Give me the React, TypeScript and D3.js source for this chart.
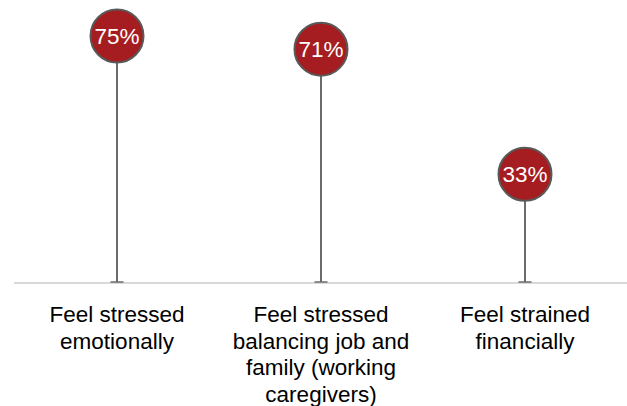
import React from "react";
import * as d3 from "d3";

const categories: string[][] = [
  ["Feel stressed", "emotionally"],
  ["Feel stressed", "balancing job and", "family (working", "caregivers)"],
  ["Feel strained", "financially"],
];
const values: number[] = [75, 71, 33];
const valueLabels: string[] = ["75%", "71%", "33%"];

export default function App() {
  const width = 627;
  const height = 406;
  const axisY = 283;
  const x = d3
    .scalePoint<number>()
    .domain(values.map((_, i) => i))
    .range([117, 525]);
  const y = d3.scaleLinear().domain([0, 75]).range([axisY, 36]);
  const r = 26.5;

  return (
    <svg
      width={width}
      height={height}
      style={{ position: "absolute", left: 0, top: 0 }}
      fontFamily="'Liberation Sans', Arial, sans-serif"
    >
      <line x1={14} x2={627} y1={axisY} y2={axisY} stroke="#d9d9d9" strokeWidth={2} />
      {values.map((v, i) => {
        const cx = x(i)!;
        const cy = y(v);
        return (
          <g key={i}>
            <line x1={cx} x2={cx} y1={cy} y2={axisY - 1} stroke="#6b6b6b" strokeWidth={2} />
            <line x1={cx - 6.5} x2={cx + 6.5} y1={axisY - 1} y2={axisY - 1} stroke="#6b6b6b" strokeWidth={1.5} />
            <circle cx={cx} cy={cy} r={r} fill="#A51D21" stroke="#595959" strokeWidth={2} />
            <text
              x={cx}
              y={cy + 8}
              textAnchor="middle"
              fill="#ffffff"
              fontSize={22.5}
            >
              {valueLabels[i]}
            </text>
            <text x={cx} y={322} textAnchor="middle" fill="#000" fontSize={22.5}>
              {categories[i].map((line, j) => (
                <tspan key={j} x={cx} dy={j === 0 ? 0 : 26.7}>
                  {line}
                </tspan>
              ))}
            </text>
          </g>
        );
      })}
    </svg>
  );
}
